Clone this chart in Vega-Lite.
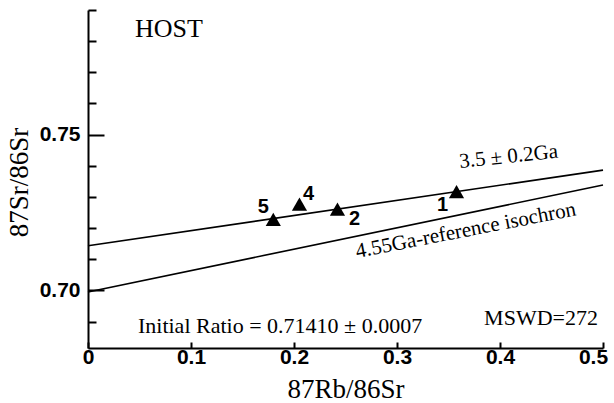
{
  "$schema": "https://vega.github.io/schema/vega-lite/v6.json",
  "width": 515,
  "height": 338,
  "autosize": {"type": "none"},
  "padding": {"left": 88, "top": 10, "right": 11, "bottom": 55},
  "background": "white",
  "config": {
    "view": {"stroke": null},
    "axis": {"grid": false, "domainColor": "black", "tickColor": "black", "labelColor": "black", "titleColor": "black"}
  },
  "datasets": {
    "points": [
      {"id": "1", "x": 0.3578, "y": 0.7317},
      {"id": "2", "x": 0.2422, "y": 0.7261},
      {"id": "4", "x": 0.2053, "y": 0.7277},
      {"id": "5", "x": 0.1799, "y": 0.7228}
    ],
    "lines": [
      {"line": "3.5 Ga", "x": 0, "y": 0.7143},
      {"line": "3.5 Ga", "x": 0.5, "y": 0.7386},
      {"line": "4.55 Ga", "x": 0, "y": 0.6995},
      {"line": "4.55 Ga", "x": 0.5, "y": 0.7338}
    ],
    "notes": [
      {"note": "host", "label": "HOST", "x": 0.0456, "y": 0.7813},
      {"note": "initial", "label": "Initial Ratio = 0.71410 ± 0.0007", "x": 0.0485, "y": 0.6863},
      {"note": "mswd", "label": "MSWD=272", "x": 0.4951, "y": 0.6889},
      {"note": "age", "label": "3.5 ± 0.2Ga", "x": 0.3612, "y": 0.7393},
      {"note": "ref", "label": "4.55Ga-reference isochron", "x": 0.2612, "y": 0.7104}
    ]
  },
  "encoding": {
    "x": {
      "field": "x",
      "type": "quantitative",
      "scale": {"domain": [0, 0.5], "nice": false, "zero": false},
      "axis": {
        "title": "87Rb/86Sr",
        "values": [0, 0.1, 0.2, 0.3, 0.4, 0.5],
        "labelExpr": "datum.value < 0.001 ? '0' : format(datum.value, '.1f')",
        "domainWidth": 2,
        "tickWidth": 2,
        "tickSize": -6,
        "labelPadding": 4,
        "labelFont": "Liberation Sans",
        "labelFontWeight": "bold",
        "labelFontSize": 21,
        "labelFlush": false,
        "labelOffset": {"condition": {"test": "datum.value > 0.49", "value": -10}, "value": 0},
        "titleFont": "Liberation Serif",
        "titleFontWeight": "normal",
        "titleFontSize": 27,
        "titleBaseline": "alphabetic",
        "titleY": 49
      }
    },
    "y": {
      "field": "y",
      "type": "quantitative",
      "scale": {"domain": [0.6815, 0.79], "nice": false, "zero": false},
      "axis": {
        "title": "87Sr/86Sr",
        "values": [0.69, 0.7, 0.71, 0.72, 0.73, 0.74, 0.75, 0.76, 0.77, 0.78, 0.79],
        "labelExpr": "abs(datum.value - 0.7) < 0.001 || abs(datum.value - 0.75) < 0.001 ? format(datum.value, '.2f') : ''",
        "domainWidth": 2,
        "tickWidth": 2,
        "tickSize": {"condition": {"test": "abs(datum.value - 0.7) < 0.001 || abs(datum.value - 0.75) < 0.001", "value": -16}, "value": -8},
        "labelPadding": 24,
        "labelFont": "Liberation Sans",
        "labelFontWeight": "bold",
        "labelFontSize": 21,
        "labelFlush": false,
        "titleFont": "Liberation Serif",
        "titleFontWeight": "normal",
        "titleFontSize": 27,
        "titleBaseline": "alphabetic",
        "titleX": -61,
        "titleY": 172
      }
    }
  },
  "layer": [
    {
      "data": {"name": "lines"},
      "mark": {"type": "line", "color": "black", "strokeWidth": 1.6},
      "encoding": {"detail": {"field": "line"}}
    },
    {
      "data": {"name": "points"},
      "mark": {"type": "point", "shape": "triangle-up", "filled": true, "color": "black", "opacity": 1, "size": 230}
    },
    {
      "data": {"name": "points"},
      "transform": [{"filter": "datum.id == '5'"}],
      "mark": {"type": "text", "font": "Liberation Sans", "fontWeight": "bold", "fontSize": 20, "align": "center", "baseline": "middle", "dx": -10, "dy": -12, "color": "black"},
      "encoding": {"text": {"field": "id"}}
    },
    {
      "data": {"name": "points"},
      "transform": [{"filter": "datum.id == '4'"}],
      "mark": {"type": "text", "font": "Liberation Sans", "fontWeight": "bold", "fontSize": 20, "align": "center", "baseline": "middle", "dx": 9, "dy": -10, "color": "black"},
      "encoding": {"text": {"field": "id"}}
    },
    {
      "data": {"name": "points"},
      "transform": [{"filter": "datum.id == '2'"}],
      "mark": {"type": "text", "font": "Liberation Sans", "fontWeight": "bold", "fontSize": 20, "align": "center", "baseline": "middle", "dx": 17, "dy": 10, "color": "black"},
      "encoding": {"text": {"field": "id"}}
    },
    {
      "data": {"name": "points"},
      "transform": [{"filter": "datum.id == '1'"}],
      "mark": {"type": "text", "font": "Liberation Sans", "fontWeight": "bold", "fontSize": 20, "align": "center", "baseline": "middle", "dx": -14, "dy": 13, "color": "black"},
      "encoding": {"text": {"field": "id"}}
    },
    {
      "data": {"name": "notes"},
      "transform": [{"filter": "datum.note == 'host'"}],
      "mark": {"type": "text", "font": "Liberation Serif", "fontSize": 26, "align": "left", "baseline": "alphabetic", "color": "black"},
      "encoding": {"text": {"field": "label"}}
    },
    {
      "data": {"name": "notes"},
      "transform": [{"filter": "datum.note == 'initial'"}],
      "mark": {"type": "text", "font": "Liberation Serif", "fontSize": 22, "align": "left", "baseline": "alphabetic", "color": "black"},
      "encoding": {"text": {"field": "label"}}
    },
    {
      "data": {"name": "notes"},
      "transform": [{"filter": "datum.note == 'mswd'"}],
      "mark": {"type": "text", "font": "Liberation Serif", "fontSize": 22, "align": "right", "baseline": "alphabetic", "color": "black"},
      "encoding": {"text": {"field": "label"}}
    },
    {
      "data": {"name": "notes"},
      "transform": [{"filter": "datum.note == 'age'"}],
      "mark": {"type": "text", "font": "Liberation Serif", "fontSize": 21, "align": "left", "baseline": "alphabetic", "angle": -6, "color": "black"},
      "encoding": {"text": {"field": "label"}}
    },
    {
      "data": {"name": "notes"},
      "transform": [{"filter": "datum.note == 'ref'"}],
      "mark": {"type": "text", "font": "Liberation Serif", "fontSize": 21, "align": "left", "baseline": "alphabetic", "angle": -11, "color": "black"},
      "encoding": {"text": {"field": "label"}}
    }
  ]
}
